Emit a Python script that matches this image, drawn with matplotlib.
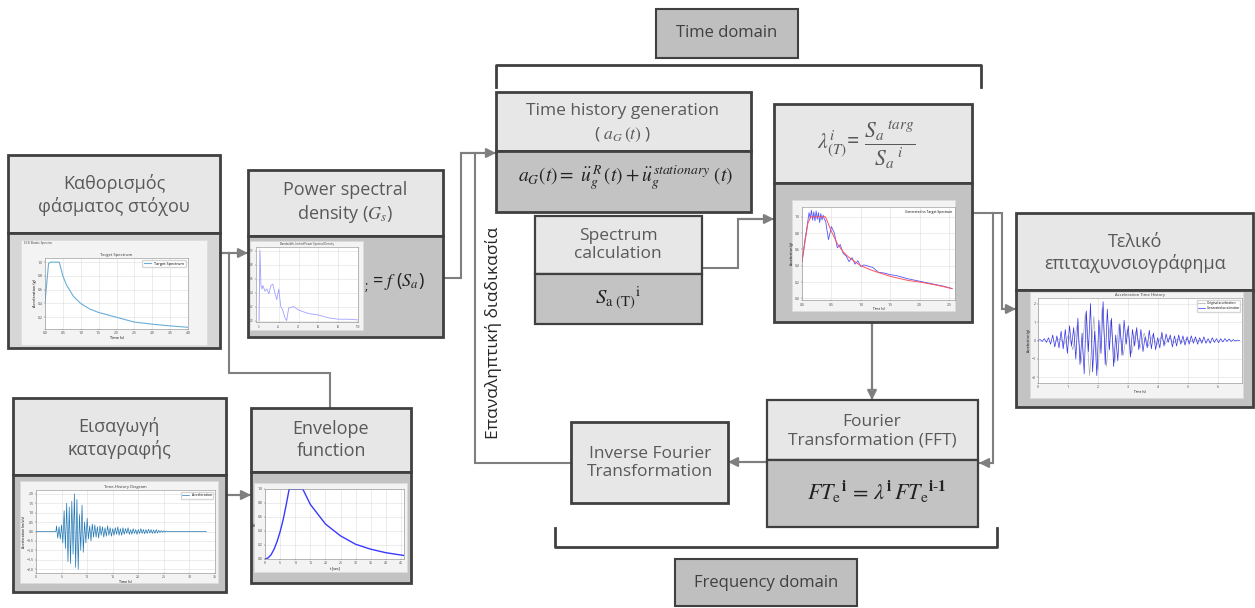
import numpy as np
import matplotlib.pyplot as plt
from matplotlib.patches import Rectangle

plt.rcParams['font.family'] = ['Open Sans', 'DejaVu Sans']
plt.rcParams['mathtext.fontset'] = 'stix'

W, H = 1255, 608
TXT = '#595959'
EDGE = '#404040'
LIGHT = '#e7e7e7'
MID = '#c3c3c3'
LINE = '#7f7f7f'

# target spectrum (box 1)
spec_T = [0, 0.1, 0.15, 0.4, 0.5, 0.6, 0.8, 1.0, 1.25, 1.5, 2.0, 2.5, 3.0, 3.5, 4.0]
spec_Sa = [0.42, 0.98, 1.0, 1.0, 0.8, 0.67, 0.5, 0.4, 0.32, 0.27, 0.2, 0.13, 0.1, 0.075, 0.055]

# power spectral density (box 2)
psd_f = [0, 1, 2, 3, 4, 6, 8, 10, 12, 14, 16, 18, 20, 22, 24, 26, 28, 30, 35, 40, 50, 60, 70, 80, 90, 100]
psd_g = [0, 1.0, 0.5, 0.45, 0.5, 0.42, 0.45, 0.38, 0.5, 0.52, 0.4, 0.3, 0.45, 0.2, 0.15, 0.05, 0.0,
         0.18, 0.2, 0.15, 0.1, 0.08, 0.04, 0.02, 0.02, 0.01]

# generated vs target spectrum (box lambda)
gen_T = [0, .02, .05, .08, .1, .12, .14, .16, .18, .2, .22, .24, .26, .28, .3, .32, .34, .36, .38, .4,
         .45, .5, .55, .6, .65, .7, .75, .8, .85, .9, .95, 1.0, 1.05, 1.1, 1.2, 1.3, 1.4, 1.5, 1.6,
         1.7, 1.8, 2.0, 2.2, 2.4, 2.55]
gen_Sa = [.45, .55, .72, .85, .95, 1.05, .98, 1.08, .96, 1.06, .95, 1.07, .97, 1.05, .93, 1.04, .96,
          1.02, .97, .95, .72, .88, .8, .62, .66, .55, .52, .45, .5, .42, .46, .39, .41, .40, .38,
          .32, .31, .29, .28, .26, .24, .21, .18, .15, .12]
tgt_T = [0, .1, .15, .4, .5, .6, .7, .8, 1.0, 1.2, 1.5, 1.8, 2.0, 2.3, 2.55]
tgt_Sa = [.45, .92, 1.0, 1.0, .82, .67, .57, .5, .4, .34, .27, .22, .2, .16, .12]

# final accelerogram
fin_dt = 0.07
fin_acc = [0.0, 0.05, -0.05, 0.1, -0.1, 0.15, -0.2, 0.3, -0.35, 0.25,
           -0.4, 0.5, -0.45, 0.6, -0.7, 0.8, -0.3, 0.7, -1.0, 1.2,
           -1.3, 0.4, -1.8, 1.6, -0.6, 2.0, -1.7, 0.5, -1.9, 1.1,
           -0.7, 2.1, -1.3, 1.7, -0.5, 1.2, -1.4, 0.3, -1.1, 0.9,
           -0.8, 1.1, -0.2, 0.8, -0.9, 0.6, -0.3, 0.7, -0.5, 0.6,
           -0.6, 0.2, -0.4, 0.55, -0.45, 0.4, -0.5, 0.15, -0.4, 0.45,
           -0.3, 0.35, -0.1, 0.3, -0.35, 0.25, -0.3, 0.3, -0.2, 0.25,
           -0.25, 0.2, -0.2, 0.25, -0.15, 0.2, -0.2, 0.15, -0.15, 0.2,
           -0.15, 0.1, -0.15, 0.15, -0.1, 0.1, -0.12, 0.1, -0.08, 0.1,
           -0.05, 0.08, -0.05, 0.05, -0.03, 0.02, 0.0]
orig_dt = 0.14
orig_acc = [0, 0.1, -0.2, 0.3, -0.5, 0.8, -1.2, 1.5, -1.9, 1.3, -1.6, 1.8, -1.4, 1.1, -1.2, 0.9, -0.8,
            0.6, -0.7, 0.5, -0.4, 0.4, -0.3, 0.3, -0.25, 0.2, -0.2, 0.15, -0.15, 0.1, -0.1, 0.08,
            -0.05, 0.05, -0.02, 0]

# input record
rec_t0, rec_dt = 4.0, 0.25
rec_acc = [0.3, -0.35, 0.25, -0.4, 0.35, -0.6, 1.1, -0.9, 1.5, -1.6,
           1.3, -1.7, 1.6, -1.2, 2.0, -1.9, 1.7, -2.0, 0.9, -1.0,
           1.4, -1.1, 0.5, -0.6, 0.7, -0.4, 0.3, -0.5, 0.4, -0.3,
           0.35, -0.3, 0.25, -0.35, 0.3, -0.2, 0.25, -0.3, 0.2, -0.25,
           0.3, -0.2, 0.2, -0.25, 0.15, -0.2, 0.2, -0.15, 0.25, -0.2,
           0.15, -0.2, 0.2, -0.15, 0.15, -0.1, 0.2, -0.15, 0.1, -0.15,
           0.15, -0.1, 0.1, -0.15, 0.1, -0.1, 0.15, -0.1, 0.1, -0.12,
           0.1, -0.1, 0.12, -0.08, 0.1, -0.1, 0.08, -0.1, 0.1, -0.08,
           0.06, -0.05, 0.05, -0.04, 0.04, -0.03, 0.02, 0, 0, 0]

# envelope function
env_t = [0, 1, 2, 3, 4, 5, 6, 7, 8, 12.5, 15, 20, 25, 30, 35, 40, 46]
env_y = [0, 0.015, 0.06, 0.14, 0.25, 0.39, 0.56, 0.77, 1, 1, 0.78, 0.5, 0.33, 0.21, 0.14, 0.09, 0.05]

fig = plt.figure(figsize=(W / 100, H / 100), dpi=100)
ax = fig.add_axes([0, 0, 1, 1])
ax.set_xlim(0, W)
ax.set_ylim(H, 0)
ax.axis('off')


def box(x0, y0, x1, y1, fc, lw=2, ec=EDGE):
    ax.add_patch(Rectangle((x0, y0), x1 - x0, y1 - y0, fc=fc, ec=ec, lw=lw, zorder=2))


def label(x, y, s, size=13, color=TXT, **kw):
    ax.text(x, y, s, fontsize=size, color=color, ha='center', va='center', zorder=5,
            linespacing=1.25, **kw)


def thumb(frame, inner, title=None):
    x0, y0, x1, y1 = frame
    ax.add_patch(Rectangle((x0, y0), x1 - x0, y1 - y0, fc='#f3f3f3', ec='#dcdcdc', lw=0.6, zorder=3))
    a0, b0, a1, b1 = inner
    a = fig.add_axes([a0 / W, 1 - b1 / H, (a1 - a0) / W, (b1 - b0) / H])
    a.tick_params(labelsize=2.5, length=1, width=0.3, pad=0.8, colors='#444444')
    a.grid(color='#dddddd', lw=0.4)
    for s in a.spines.values():
        s.set_linewidth(0.4)
        s.set_color('#888888')
    if title:
        a.set_title(title, fontsize=3, pad=1.5, color='#333333')
    return a


def path(xs, ys, arrow=True):
    ax.plot(xs, ys, color=LINE, lw=1.5, zorder=1, solid_joinstyle='miter')
    if arrow:
        ax.annotate('', xy=(xs[-1], ys[-1]), xytext=(xs[-2], ys[-2]),
                    arrowprops=dict(arrowstyle='-|>', color=LINE, lw=1.5, mutation_scale=14,
                                    shrinkA=0, shrinkB=0), zorder=1)


# connectors
path([220, 248], [253, 253])
path([229, 229, 330, 330], [253, 373, 373, 408], arrow=False)
path([226, 251], [495, 495])
path([443, 461, 461, 496], [278, 278, 153, 153])
path([571, 475, 475], [463, 463, 153], arrow=False)
path([702, 738, 738, 774], [268, 268, 219, 219])
path([972, 1002, 1002, 1016], [213, 213, 309, 309])
path([993, 993, 979], [213, 463, 463])
path([872, 872], [322, 400])
path([767, 728], [462, 462])

# brackets
ax.plot([496, 496, 981, 981], [87, 65, 65, 87], color=EDGE, lw=2, zorder=1)
ax.plot([555, 555, 997, 997], [528, 547, 547, 528], color=EDGE, lw=2, zorder=1)

# domain labels
box(656, 9, 798, 58, '#bfbfbf', lw=1.5)
label(727, 33, 'Time domain', size=12, color='#404040')
box(675, 559, 857, 606, '#bfbfbf', lw=1.5)
label(766, 583, 'Frequency domain', size=12, color='#404040')

# box 1: target spectrum
box(8, 155, 220, 233, LIGHT)
box(8, 233, 220, 348, '#d6d6d6')
label(114, 195, 'Καθορισμός\nφάσματος στόχου', size=13)
a = thumb((21, 240, 207, 345), (45, 258, 188, 329), 'Target Spectrum')
a.plot(spec_T, spec_Sa, color='#6aaed6', lw=0.8, label='Target Spectrum')
a.set_xlim(0, 4)
a.set_ylim(0.03, 1.06)
a.set_xlabel('Time (s)', fontsize=2.8, labelpad=0.5)
a.set_ylabel('Acceleration (g)', fontsize=2.8, labelpad=0.5)
a.legend(fontsize=2.8, loc='upper right', handlelength=2, frameon=True)
ax.text(24, 244, 'EC8 Elastic Spectra', fontsize=2.3, color='#444444', zorder=5)

# box 2: PSD
box(248, 170, 443, 236, LIGHT)
box(248, 236, 443, 337, MID)
label(345, 203, 'Power spectral\ndensity ($G_s$)', size=13)
ax.text(365, 286, ';', fontsize=9, color='#222222', va='center', zorder=5)
ax.text(372, 282, r'= $f$ ($S_a$)', fontsize=13, color='#222222', va='center', zorder=5)
a = thumb((250, 241, 363, 330), (256, 247, 358, 322), 'Bandwidth-limited Power Spectral Density')
a.plot(psd_f, psd_g, color='#a0a0ff', lw=0.6)
a.set_xlim(-3, 100)
a.set_ylim(-0.02, 1.05)
a.tick_params(labelsize=1.8)
a.title.set_fontsize(2)

# box 3: time history generation
box(496, 92, 751, 151, LIGHT)
box(496, 151, 751, 212, MID)
label(623, 111, 'Time history generation', size=12.5)
label(623, 135, r'( $a_G\,(t)$ )', size=12.5)
label(626, 178, r'$a_G(t) =\ \ddot{u}_g^{\,R}\,(t) + \ddot{u}_g^{\,stationary}\ (t)$', size=14,
      color='#222222')

# box 4: spectrum calculation
box(535, 216, 702, 274, LIGHT, lw=1.6)
box(535, 274, 702, 324, MID, lw=1.6)
label(618, 245, 'Spectrum\ncalculation', size=12.5)
label(618, 298, r'$S_{\mathrm{a}\ (\mathrm{T})}{}^{\mathrm{i}}$', size=15, color='#222222')

# box 5: lambda
box(774, 104, 972, 183, LIGHT)
box(774, 183, 972, 322, MID)
label(866, 145, r'$\lambda^{i}_{(T)}$= $\dfrac{{S_a}^{\ targ}}{{S_a}^{\ i}}$', size=15.5)
a = thumb((792, 200, 955, 311), (802, 207, 955, 300))
a.plot(gen_T, gen_Sa, color='#5555ff', lw=0.6)
a.plot(tgt_T, tgt_Sa, color='#ff5555', lw=0.7)
a.set_xlim(0, 2.6)
a.set_ylim(-0.02, 1.12)
a.set_xlabel('Time (s)', fontsize=2.3, labelpad=0.5)
a.set_ylabel('Acceleration (g)', fontsize=2.3, labelpad=0.5)
a.text(0.98, 0.97, 'Generated vs Target Spectrum', transform=a.transAxes, fontsize=2.4,
       ha='right', va='top')

# box 6: final accelerogram
box(1016, 213, 1253, 290, LIGHT)
box(1016, 290, 1253, 407, MID)
label(1135, 253, 'Τελικό\nεπιταχυνσιογράφημα', size=13)
a = thumb((1030, 292, 1243, 398), (1038, 298, 1242, 383), 'Acceleration Time History')
orig_t = np.arange(len(orig_acc)) * orig_dt + 0.6
fin_t = np.arange(len(fin_acc)) * fin_dt
a.plot(orig_t, orig_acc, color='#aaaaaa', lw=0.5, label='Original acceleration')
a.plot(fin_t, fin_acc, color='#3333ee', lw=0.5, label='Generated acceleration')
a.set_xlim(0, 6.8)
a.set_ylim(-2.3, 2.3)
a.set_xlabel('Time (s)', fontsize=2.3, labelpad=0.5)
a.set_ylabel('Acceleration (g)', fontsize=2.3, labelpad=0.5)
a.legend(fontsize=2.2, loc='upper right')

# box 7: input record
box(13, 398, 226, 475, LIGHT)
box(13, 475, 226, 592, MID)
label(119, 438, 'Εισαγωγή\nκαταγραφής', size=13)
a = thumb((20, 481, 218, 583), (36, 490, 215, 573), 'Time-History Diagram')
rec_t = np.concatenate([[0, rec_t0 - 0.1], rec_t0 + rec_dt * np.arange(len(rec_acc)), [33.3]])
rec_y = np.concatenate([[0, 0], rec_acc, [0]])
a.plot(rec_t, rec_y, color='#1f77b4', lw=0.5, label='Acceleration')
a.set_xlim(0, 35)
a.set_ylim(-2.2, 2.2)
a.set_xlabel('Time (s)', fontsize=2.5, labelpad=0.5)
a.set_ylabel('Acceleration (m/s/s)', fontsize=2.5, labelpad=0.5)
a.legend(fontsize=2.5, loc='upper right')

# box 8: envelope
box(251, 408, 411, 472, LIGHT)
box(251, 472, 411, 583, MID)
label(331, 440, 'Envelope\nfunction', size=13)
a = thumb((254, 483, 407, 572), (265, 489, 404, 559))
a.plot(env_t, env_y, color='#3a3aff', lw=1.0)
a.set_xlim(0, 46)
a.set_ylim(0, 1)
a.set_xticks([0, 5, 10, 15, 20, 25, 30, 35, 40, 45])
a.set_yticks([0, 0.2, 0.4, 0.6, 0.8, 1])
a.set_xlabel('t [sec]', fontsize=2.5, labelpad=0.5)
a.set_ylabel('I(t)', fontsize=2.5, labelpad=0.5)

# box 9: inverse FFT
box(571, 422, 728, 503, LIGHT)
label(650, 463, 'Inverse Fourier\nTransformation', size=12.5)

# box 10: FFT
box(767, 400, 978, 460, LIGHT, lw=1.6)
box(767, 460, 978, 527, MID, lw=1.6)
label(872, 431, 'Fourier\nTransformation (FFT)', size=12.5)
label(877, 492, r'$FT_{\mathrm{e}}{}^{\mathbf{i}}\,=\,\lambda^{\mathbf{i}}\,FT_{\mathrm{e}}{}^{\mathbf{i}\text{-}\mathbf{1}}$',
      size=16, color='#222222')

# iterative process
ax.text(493, 333, 'Επαναληπτική διαδικασία', rotation=90, fontsize=12.5, color='#262626',
        ha='center', va='center', zorder=5)

fig.savefig('out.png', dpi=100)
